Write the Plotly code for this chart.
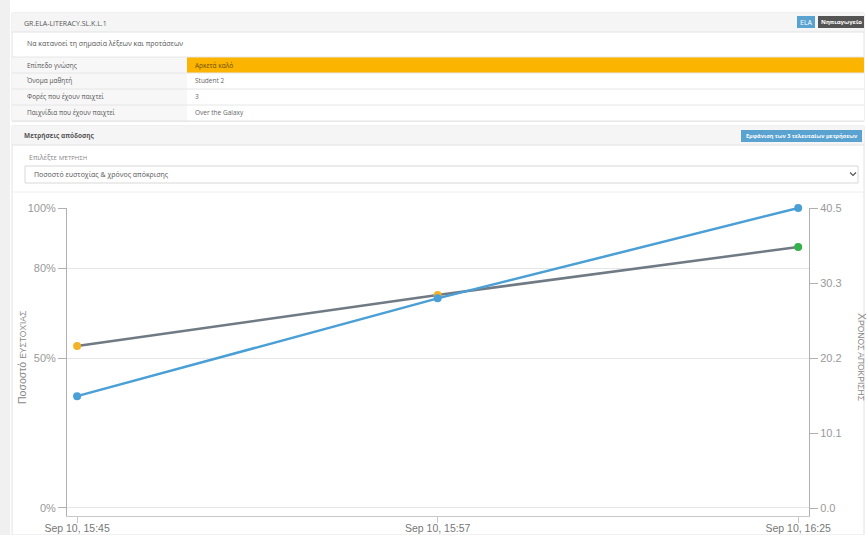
import plotly.graph_objects as go

# ---------------- data ----------------
dates = ["Sep 10, 15:45", "Sep 10, 15:57", "Sep 10, 16:25"]
accuracy_pct = [54, 71, 87]            # Ποσοστό ευστοχίας (left axis)
response_time = [15.1, 28.3, 40.5]     # Χρόνος απόκρισης (right axis)
accuracy_marker_colors = ["#f2b328", "#f2b328", "#35b04a"]

left_tick_vals = [0, 50, 80, 100]
left_tick_text = ["0%", "50%", "80%", "100%"]
right_tick_vals = [0.0, 10.1, 20.2, 30.3, 40.5]
right_tick_text = ["0.0", "10.1", "20.2", "30.3", "40.5"]

info_labels = ["Επίπεδο γνώσης", "Όνομα μαθητή", "Φορές που έχουν παιχτεί", "Παιχνίδια που έχουν παιχτεί"]
info_values = ["Αρκετά καλό", "Student 2", "3", "Over the Galaxy"]

# ---------------- geometry helpers (pixel -> paper) ----------------
W, H = 867, 535
L, R, T, B = 67, 809, 208, 516
PW, PH = R - L, B - T


def px(x):
    return (x - L) / PW


def py(y):
    return (B - y) / PH


shapes = []
annotations = []


def rect(x0, y0, x1, y1, fill=None, line=None, lw=1, layer="below"):
    shapes.append(dict(type="rect", xref="paper", yref="paper",
                       x0=px(x0), x1=px(x1), y0=py(y1), y1=py(y0),
                       fillcolor=fill if fill else "rgba(0,0,0,0)",
                       line=dict(color=line if line else "rgba(0,0,0,0)", width=lw if line else 0),
                       layer=layer))


def hline(x0, x1, y, color="#e6e6e6", lw=1):
    shapes.append(dict(type="line", xref="paper", yref="paper",
                       x0=px(x0), x1=px(x1), y0=py(y), y1=py(y),
                       line=dict(color=color, width=lw), layer="below"))


def text(x, y, s, size=7, color="#555", anchor="left", family="Open Sans, Arial, sans-serif", angle=0):
    annotations.append(dict(xref="paper", yref="paper", x=px(x), y=py(y), text=s,
                            showarrow=False, xanchor=anchor, yanchor="middle", textangle=angle,
                            font=dict(size=size, color=color, family=family)))


# page background strip
rect(0, 0, 10, 535, fill="#f0f0f0")

# ---- panel 1 ----
rect(12, 13, 864, 121, fill="#ffffff", line="#e2e2e2")
rect(12, 13, 864, 32, fill="#f5f5f5")
hline(12, 864, 32, "#e2e2e2")
text(22, 23, "GR.ELA-LITERACY.SL.K.L.1", size=7, color="#555")
rect(797, 16, 815, 28, fill="#5aa2cf")
text(806, 22, "ELA", size=7, color="#ffffff", anchor="center")
rect(818, 16, 864, 28, fill="#555555")
text(841, 22, "<b>Νηπιαγωγείο</b>", size=6, color="#ffffff", anchor="center")
text(25, 44, "Να κατανοεί τη σημασία λέξεων και προτάσεων", size=7, color="#555")

row_edges = [57, 73, 89, 105, 121]
for i in range(4):
    y0, y1 = row_edges[i], row_edges[i + 1]
    rect(12, y0, 187, y1, fill="#f7f7f7")
    rect(187, y0, 864, y1, fill="#fbb400" if i == 0 else "#ffffff")
    hline(12, 864, y0, "#e6e6e6")
    text(25, (y0 + y1) / 2, info_labels[i], size=6.5, color="#555")
    text(193, (y0 + y1) / 2, info_values[i], size=6.5, color="#6b4c00" if i == 0 else "#666")
hline(12, 864, 121, "#e2e2e2")

# ---- panel 2 ----
rect(12, 126, 864, 535, fill="#ffffff", line="#e2e2e2")
rect(12, 126, 864, 145, fill="#f5f5f5")
hline(12, 864, 145, "#e2e2e2")
text(22, 135.5, "<b>Μετρήσεις απόδοσης</b>", size=6.5, color="#555")
rect(741, 130, 862, 142, fill="#5aa2cf")
text(801.5, 136, "<b>Εμφάνιση των 3 τελευταίων μετρήσεων</b>", size=5.5, color="#ffffff", anchor="center")
text(27, 157, "Επιλέξτε <span style='font-size:6px'>ΜΈΤΡΗΣΗ</span>", size=7, color="#888")
rect(25, 166, 858, 183, fill="#ffffff", line="#d8d8d8")
text(32, 174.5, "Ποσοστό ευστοχίας & χρόνος απόκρισης", size=7, color="#555")
shapes.append(dict(type="path", xref="paper", yref="paper",
                   path="M {:.5f},{:.5f} L {:.5f},{:.5f} L {:.5f},{:.5f}".format(
                       px(850), py(172.5), px(853), py(175.5), px(856), py(172.5)),
                   line=dict(color="#555", width=1.2)))
hline(12, 864, 192, "#eeeeee")

# axis titles (as rotated annotations for exact placement)
text(22, 358, "Ποσοστό <span style='font-size:8.5px'>ΕΥΣΤΟΧΊΑΣ</span>", size=10.5, color="#888888",
     anchor="center", family="Liberation Sans, Arial, sans-serif", angle=-90)
text(862, 357, "Χ<span style='font-size:8.5px'>ΡΌΝΟΣ ΑΠΌΚΡΙΣΗΣ</span>", size=10.5, color="#888888",
     anchor="center", family="Liberation Sans, Arial, sans-serif", angle=90)

# ---------------- traces ----------------
fig = go.Figure()
fig.add_trace(go.Scatter(
    x=dates, y=response_time, yaxis="y2", mode="lines+markers",
    line=dict(color="#4a9fd6", width=2.5),
    marker=dict(color="#4a9fd6", size=8),
    cliponaxis=False, showlegend=False, name="Χρόνος απόκρισης"))
fig.add_trace(go.Scatter(
    x=dates, y=accuracy_pct, yaxis="y", mode="lines+markers",
    line=dict(color="#6f7a84", width=2.5),
    marker=dict(color=accuracy_marker_colors, size=8),
    cliponaxis=False, showlegend=False, name="Ποσοστό ευστοχίας"))

tick_font = dict(family="Liberation Sans, Arial, sans-serif", size=11, color="#999999")

fig.update_layout(
    width=W, height=H,
    margin=dict(l=L, r=W - R, t=T, b=H - B),
    paper_bgcolor="#ffffff", plot_bgcolor="#ffffff",
    shapes=shapes, annotations=annotations,
    xaxis=dict(type="category", range=[-0.028, 2.03], showgrid=False,
               showline=True, linecolor="#c8c8c8", linewidth=1,
               ticks="outside", ticklen=6, tickcolor="#c8c8c8",
               ticklabelstandoff=-4,
               tickfont=dict(family="Liberation Sans, Arial, sans-serif", size=10.5, color="#777777"),
               automargin=False, fixedrange=True),
    yaxis=dict(range=[-2.67, 100], tickvals=left_tick_vals, ticktext=left_tick_text,
               showgrid=True, gridcolor="#e6e6e6", gridwidth=1, zeroline=False,
               showline=True, linecolor="#b0b0b0", linewidth=1,
               ticks="outside", ticklen=8, tickcolor="#b0b0b0",
               tickfont=tick_font, automargin=False),
    yaxis2=dict(range=[-1.08, 40.5], overlaying="y", side="right",
                tickvals=right_tick_vals, ticktext=right_tick_text,
                showgrid=False, zeroline=False,
                showline=True, linecolor="#b0b0b0", linewidth=1,
                ticks="outside", ticklen=8, tickcolor="#b0b0b0",
                tickfont=tick_font, automargin=False),
)

fig.write_html("out.html", config={"displayModeBar": False},
               post_script="document.body.style.margin='0px';")
